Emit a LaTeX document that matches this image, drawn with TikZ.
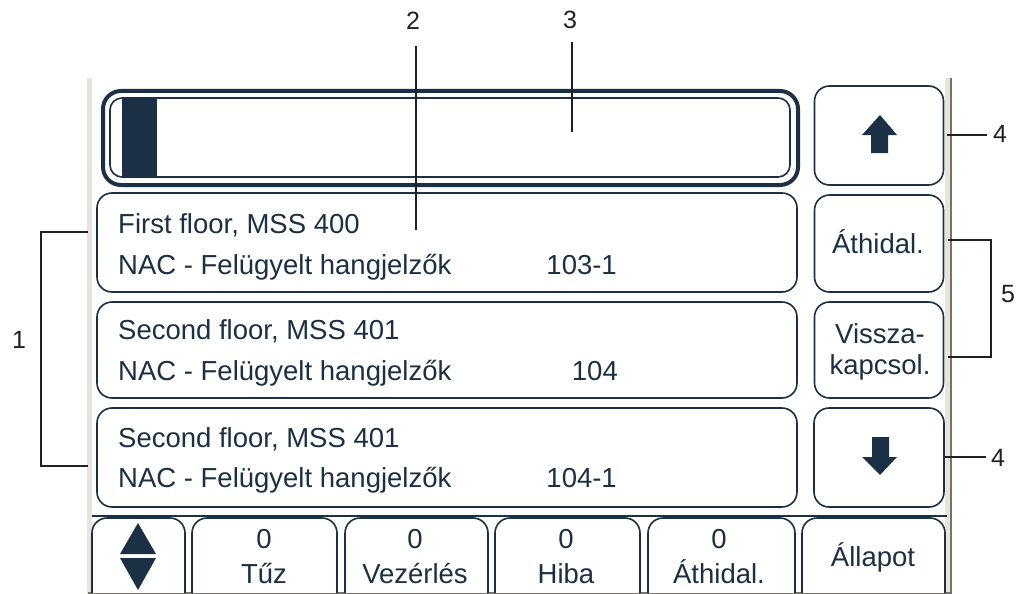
\documentclass[tikz,border=0pt]{standalone}
\usepackage{fontspec}
\setmainfont{Liberation Sans}
\definecolor{navy}{HTML}{1B2F45}
\definecolor{framebeige}{HTML}{E8E4DA}
\definecolor{framegray}{HTML}{77726A}
\definecolor{leadc}{HTML}{231F20}
\tikzset{
  scr/.style={draw=navy, line width=1.6pt, rounded corners=15pt, fill=white, inner sep=0pt},
  txt/.style={text=navy, font=\fontsize{27.5}{30}\selectfont, inner sep=0pt},
  lbl/.style={text=leadc, font=\fontsize{25}{28}\selectfont, inner sep=0pt},
  lead/.style={draw=leadc, line width=2pt},
}
\begin{document}
\begin{tikzpicture}[x=1pt,y=-1pt]
\useasboundingbox (0,0) rectangle (1018,594);
% screen frame
\fill[framebeige] (87,78) rectangle (92,594);
\fill[framebeige] (945,78) rectangle (950,594);
\draw[framegray, line width=1.6pt] (951,78) -- (951,594);
\draw[framegray, line width=1.2pt] (88,593) -- (952,593);

% progress bar
\node[draw=navy, line width=4pt, rounded corners=18pt, minimum width=695pt, minimum height=94pt, inner sep=0pt] (bar) at (450.5,138) {};
\draw[navy, line width=1.6pt, rounded corners=12pt] (110,98) rectangle (790,177);
\fill[navy] (122,98) rectangle (157,178);

% list items
\node[scr, minimum width=700pt, minimum height=99pt] (item1) at (447,242.5) {};
\node[scr, minimum width=700pt, minimum height=96pt] (item2) at (447,350) {};
\node[scr, minimum width=700pt, minimum height=99pt] (item3) at (447,457.5) {};

\node[txt, anchor=base west] (i1a) at (118,233) {First floor, MSS 400};
\node[txt, anchor=base west] (i1b) at (118,274) {NAC - Felügyelt hangjelzők};
\node[txt, anchor=base east] (i1c) at (617,274) {103-1};
\node[txt, anchor=base west] (i2a) at (118,339) {Second floor, MSS 401};
\node[txt, anchor=base west] (i2b) at (118,380) {NAC - Felügyelt hangjelzők};
\node[txt, anchor=base east] (i2c) at (618,380) {104};
\node[txt, anchor=base west] (i3a) at (118,447) {Second floor, MSS 401};
\node[txt, anchor=base west] (i3b) at (118,487) {NAC - Felügyelt hangjelzők};
\node[txt, anchor=base east] (i3c) at (617,487) {104-1};

% right buttons
\node[scr, minimum width=129pt, minimum height=99pt] (up) at (879,135.5) {};
\node[scr, minimum width=129pt, minimum height=97pt] (bridge) at (879,243.5) {};
\node[scr, minimum width=129pt, minimum height=96pt] (reset) at (879,350) {};
\node[scr, minimum width=130pt, minimum height=99pt] (down) at (879,457.5) {};
\fill[navy] (880,115) -- (897,135) -- (888,135) -- (888,153) -- (871,153) -- (871,135) -- (862,135) -- cycle;
\fill[navy] (880,475) -- (897,457) -- (889,457) -- (889,437) -- (872,437) -- (872,457) -- (862,457) -- cycle;
\node[txt, anchor=base] (bt) at (878,253) {Áthidal.};
\node[txt, anchor=base] (rt1) at (880,343) {Vissza-};
\node[txt, anchor=base] (rt2) at (880,374) {kapcsol.};

% bottom bar
\draw[navy, line width=2.5pt] (92,516) -- (947,516);
\begin{scope}
\clip (88,500) rectangle (950,592);
\node[scr, minimum width=93pt, minimum height=112pt] (nav) at (138.5,574) {};
\node[scr, minimum width=145pt, minimum height=112pt] (fire) at (264.5,574) {};
\node[scr, minimum width=143pt, minimum height=112pt] (ctrl) at (416.5,574) {};
\node[scr, minimum width=145pt, minimum height=112pt] (fault) at (567.5,574) {};
\node[scr, minimum width=147pt, minimum height=112pt] (byp) at (721.5,574) {};
\node[scr, minimum width=143pt, minimum height=112pt] (stat) at (873.5,574) {};
\end{scope}
\fill[navy] (138,523) -- (156,554) -- (120,554) -- cycle;
\fill[navy] (120,558) -- (156,558) -- (138,590) -- cycle;

\node[txt, anchor=base] (f0) at (264,548) {0};
\node[txt, anchor=base] (f1) at (264,583) {Tűz};
\node[txt, anchor=base] (c0) at (415,548) {0};
\node[txt, anchor=base] (c1) at (415,583) {Vezérlés};
\node[txt, anchor=base] (h0) at (566,548) {0};
\node[txt, anchor=base] (h1) at (566,583) {Hiba};
\node[txt, anchor=base] (a0) at (719,548) {0};
\node[txt, anchor=base] (a1) at (719,583) {Áthidal.};
\node[txt, anchor=base] (s1) at (873,566) {Állapot};

% callout labels
\node[lbl] (l1) at (19,340) {1};
\node[lbl] (l2) at (413,21) {2};
\node[lbl] (l3) at (570,20) {3};
\node[lbl] (l4a) at (1000,134) {4};
\node[lbl] (l4b) at (998,458) {4};
\node[lbl] (l5) at (1008,294) {5};

\coordinate (c1a) at (88,232);
\coordinate (c1b) at (88,466);
\coordinate (c2a) at (416,46);
\coordinate (c2b) at (416,230);
\coordinate (c3a) at (572,42);
\coordinate (c3b) at (572,132);
\coordinate (c4a) at (947,135);
\coordinate (e4a) at (987,135);
\coordinate (c4b) at (945,457);
\coordinate (e4b) at (986,457);
\coordinate (c5a) at (948,240);
\coordinate (c5b) at (948,357);

\draw[lead] (c1a) -- (41,232) -- (41,466) -- (c1b);
\draw[lead] (c2a) -- (c2b);
\draw[lead] (c3a) -- (c3b);
\draw[lead] (c4a) -- (e4a);
\draw[lead] (c4b) -- (e4b);
\draw[lead] (c5a) -- (991,240) -- (991,357) -- (c5b);
\end{tikzpicture}
\end{document}
